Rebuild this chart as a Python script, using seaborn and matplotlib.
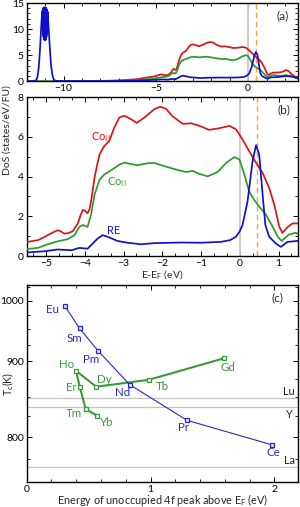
import numpy as np
import pandas as pd
import matplotlib
matplotlib.use('Agg')
import matplotlib.pyplot as plt
import seaborn as sns
from matplotlib.ticker import AutoMinorLocator, FixedLocator, MultipleLocator

# ---- DoS curves (energy in eV, DoS in states/eV/FU) ----
red_e = [-12.0, -8.5, -8.0, -7.5, -7.0, -6.5, -6.0, -5.56, -5.4, -5.21, -5.08, -4.96, -4.83,
         -4.70, -4.62, -4.53, -4.43, -4.31, -4.18, -4.11, -4.05, -3.99, -3.93, -3.88, -3.84,
         -3.75, -3.68, -3.62, -3.50, -3.37, -3.24, -3.11, -2.98, -2.81, -2.66, -2.46, -2.20,
         -2.05, -1.90, -1.73, -1.47, -1.26, -1.04, -0.79, -0.53, -0.27, -0.10, 0.07, 0.24,
         0.42, 0.59, 0.76, 0.89, 1.02, 1.10, 1.23, 1.36, 1.53, 1.75, 1.92, 2.05, 2.20, 2.35,
         2.62, 2.70]
red_dos = [0.0, 0.0, 0.03, 0.08, 0.15, 0.25, 0.38, 0.66, 0.74, 0.80, 0.92, 1.05, 1.18,
           1.30, 1.24, 1.13, 1.15, 1.25, 1.64, 2.05, 2.33, 2.27, 2.15, 2.35, 2.74,
           3.93, 4.60, 5.11, 5.53, 5.79, 6.46, 6.97, 7.06, 6.89, 6.70, 6.97, 7.40,
           7.51, 7.40, 7.02, 6.65, 6.68, 6.55, 6.35, 6.43, 6.55, 6.38, 5.87, 5.28,
           4.69, 4.18, 3.42, 2.58, 1.47, 1.16, 1.45, 1.64, 1.64, 1.70, 1.85, 2.15, 1.90, 1.35,
           0.71, 0.65]

green_e = [-12.0, -8.0, -7.5, -7.0, -6.5, -6.0, -5.56, -5.21, -4.96, -4.70, -4.44, -4.27,
           -4.14, -4.05, -3.93, -3.84, -3.75, -3.62, -3.50, -3.33, -3.11, -2.97, -2.81,
           -2.64, -2.38, -2.20, -2.08, -1.64, -1.39, -1.21, -1.04, -0.83, -0.57, -0.35,
           -0.14, -0.01, 0.12, 0.24, 0.37, 0.50, 0.68, 0.85, 0.98, 1.08, 1.27, 1.44, 1.54,
           1.80, 2.07, 2.35, 2.70]
green_dos = [0.0, 0.0, 0.03, 0.07, 0.12, 0.20, 0.34, 0.41, 0.59, 0.74, 0.85, 1.05,
             1.47, 1.56, 1.47, 2.07, 3.08, 3.84, 4.10, 4.30, 4.60, 4.70, 4.63,
             4.57, 4.67, 4.68, 4.60, 4.35, 4.23, 4.28, 4.13, 4.01, 4.23, 4.69,
             4.98, 4.86, 4.10, 3.25, 2.83, 2.49, 2.07, 1.47, 0.97, 0.76, 1.08, 1.17, 1.08,
             1.02, 1.15, 0.96, 0.45]

# RE 5p-like peak near -11 eV is strongly oscillating (drawn as read, point by point)
blue_e = [-12.0, -11.6, -11.48, -11.42, -11.35, -11.28, -11.22, -11.18,
          -11.16, -11.15, -11.14, -11.13, -11.12, -11.11, -11.10, -11.09, -11.08, -11.07,
          -11.06, -11.05, -11.04, -11.03, -11.02, -11.01, -11.00, -10.99, -10.98, -10.97,
          -10.96, -10.95, -10.94, -10.93, -10.92, -10.91, -10.90, -10.89, -10.88, -10.87,
          -10.86,
          -10.84, -10.80, -10.74, -10.68, -10.60, -10.52, -10.4, -10.2, -9.0, -7.0, -6.0,
          -5.56, -5.04, -4.70, -4.35, -4.14, -3.93, -3.80, -3.67, -3.54, -3.41, -3.16,
          -2.90, -2.55, -2.20, -1.50, -1.00, -0.50, -0.25, -0.10, 0.0, 0.07, 0.20, 0.33,
          0.42, 0.50, 0.59, 0.66, 0.76, 0.93, 1.06, 1.23, 1.54, 2.07, 2.44, 2.70]
blue_dos = [0.0, 0.02, 0.2, 0.8, 2.5, 6.0, 10.0, 12.5,
            13.2, 11.0, 13.6, 10.0, 13.9, 9.0, 14.0, 8.5, 14.1, 8.2,
            14.2, 8.0, 14.1, 7.9, 14.0, 7.8, 14.1, 7.9, 14.0, 8.0,
            14.1, 8.2, 13.9, 8.5, 13.8, 9.0, 13.6, 10.0, 13.4, 11.0,
            13.2,
            12.0, 9.5, 6.0, 3.0, 1.0, 0.2, 0.05, 0.03, 0.01, 0.03, 0.08,
            0.17, 0.24, 0.33, 0.29, 0.41, 0.37, 0.62, 0.88, 1.05, 0.97, 0.76,
            0.67, 0.59, 0.65, 0.68, 0.67, 0.71, 0.80, 0.97, 1.25, 1.56, 2.74, 4.77,
            5.58, 5.11, 3.08, 1.56, 0.97, 0.63, 0.46, 0.71, 0.77, 0.96, 0.83, 0.51]

fermi_e = 0.0
peak_4f_e = 0.44

# ---- Curie temperatures vs 4f peak energy ----
light_re = ['Eu', 'Sm', 'Pm', 'Nd', 'Pr', 'Ce']
light_peak = [0.306, 0.427, 0.578, 0.833, 1.296, 1.98]
light_tc = [990.6, 951.5, 915.3, 866.4, 820.1, 791.1]

heavy_re = ['Gd', 'Tb', 'Dy', 'Ho', 'Er', 'Tm', 'Yb']
heavy_peak = [1.591, 0.986, 0.562, 0.398, 0.430, 0.476, 0.570]
heavy_tc = [904.3, 873.3, 863.7, 886.1, 862.8, 834.2, 825.8]

ref_re = ['Lu', 'Y', 'La']
ref_tc = [848.1, 836.4, 766.0]

RED, GREEN, BLUE = '#dc1414', '#2c9a2c', '#1010c8'
BLUE_C, GREEN_C = '#2828c8', '#3a9a3a'

dos = pd.concat([
    pd.DataFrame({'E': red_e, 'DoS': red_dos, 'site': 'CoII'}),
    pd.DataFrame({'E': green_e, 'DoS': green_dos, 'site': 'CoI'}),
    pd.DataFrame({'E': blue_e, 'DoS': blue_dos, 'site': 'RE'}),
], ignore_index=True)
palette = {'CoII': RED, 'CoI': GREEN, 'RE': BLUE}

sns.set_style('ticks')
plt.rcParams['font.family'] = ['Lato', 'DejaVu Sans']
plt.rcParams['mathtext.default'] = 'regular'
plt.rcParams['font.size'] = 7.5

fig = plt.figure(figsize=(3.0, 5.07), dpi=100)
ax_a = fig.add_axes([0.089, 0.840, 0.904, 0.154])
ax_b = fig.add_axes([0.089, 0.495, 0.904, 0.3136])
ax_c = fig.add_axes([0.089, 0.049, 0.904, 0.3886])


def style_axis(ax):
    for s in ax.spines.values():
        s.set_linewidth(1.0)
        s.set_color('black')
    ax.tick_params(which='both', direction='in', top=True, right=True, labelsize=7.5,
                   pad=2, colors='black')
    ax.tick_params(which='major', length=3.5, width=0.7)
    ax.tick_params(which='minor', length=2, width=0.6)


for ax in (ax_a, ax_b):
    ax.axvline(fermi_e, color='#c8c8c8', lw=1.3, zorder=1)
    ax.axvline(peak_4f_e, color='#f4a63a', lw=1.0, ls=(0, (4, 2.5)), zorder=1)
    sns.lineplot(data=dos, x='E', y='DoS', hue='site', palette=palette, sort=False,
                 estimator=None, lw=1.25, legend=False, ax=ax, zorder=3)
    ax.set_xlabel('')
    ax.set_ylabel('')
    style_axis(ax)

# panel (a)
ax_a.set_xlim(-12, 2.7)
ax_a.set_ylim(0, 15)
ax_a.set_xticks([-10, -5, 0])
ax_a.set_yticks([0, 5, 10, 15])
ax_a.xaxis.set_minor_locator(AutoMinorLocator(5))
ax_a.yaxis.set_minor_locator(AutoMinorLocator(5))
ax_a.text(0.945, 0.84, '(a)', transform=ax_a.transAxes, ha='center', va='center', fontsize=8.5)

# panel (b)
ax_b.set_xlim(-5.5, 1.5)
ax_b.set_ylim(0, 8)
ax_b.set_xticks([-5, -4, -3, -2, -1, 0, 1])
ax_b.set_yticks([0, 2, 4, 6, 8])
ax_b.xaxis.set_minor_locator(AutoMinorLocator(3))
ax_b.yaxis.set_minor_locator(AutoMinorLocator(2))
ax_b.set_xlabel('E-E$_F$ (eV)', fontsize=7.5)
ax_b.xaxis.set_label_coords(0.5, -0.075)
ax_b.text(0.948, 0.918, '(b)', transform=ax_b.transAxes, ha='center', va='center', fontsize=8.5)
ax_b.text(-3.85, 5.96, 'Co$_{II}$', color=RED, fontsize=8, ha='left', va='center')
ax_b.text(-3.44, 3.74, 'Co$_{II}$', color=GREEN, fontsize=8, ha='left', va='center')
ax_b.text(-3.43, 1.30, 'RE', color=BLUE, fontsize=8, ha='left', va='center')

fig.text(0.025, 0.744, 'DoS (states/eV/FU)', rotation=90, ha='center', va='center', fontsize=7.5)


# panel (c): Tc axis linear in 1/Tc
def fwd(t):
    t = np.asarray(t, dtype=float)
    with np.errstate(divide='ignore', invalid='ignore'):
        return -1.0 / t


ax_c.set_xlim(0, 2.19)
ax_c.set_ylim(750.5, 1029)
ax_c.set_yscale('function', functions=(fwd, fwd))
ax_c.set_autoscale_on(False)

light = pd.DataFrame({'peak': light_peak, 'tc': light_tc, 're': light_re})
heavy = pd.DataFrame({'peak': heavy_peak, 'tc': heavy_tc, 're': heavy_re})

for t in ref_tc:
    ax_c.axhline(t, color='#c4c4c4', lw=0.9, zorder=1)

sns.lineplot(data=heavy, x='peak', y='tc', sort=False, estimator=None, color=GREEN_C, lw=1.5,
             marker='s', markersize=3.0, markerfacecolor='#e8f4e8', markeredgecolor=GREEN_C,
             markeredgewidth=0.9, ax=ax_c, zorder=3)
sns.lineplot(data=light, x='peak', y='tc', sort=False, estimator=None, color=BLUE_C, lw=0.8,
             marker='s', markersize=3.0, markerfacecolor='#e6e6fa', markeredgecolor=BLUE_C,
             markeredgewidth=0.9, ax=ax_c, zorder=4)

light_offsets = {'Eu': (-8.5, -2.4), 'Sm': (-3.6, -7.2), 'Pm': (-5, -5.8), 'Nd': (-5, -5.3),
                 'Pr': (-2.9, -5.3), 'Ce': (1.4, -5.5)}
heavy_offsets = {'Ho': (-6.8, 4.3), 'Er': (-6.5, 0), 'Tm': (-8.3, -2.9), 'Yb': (6.3, -4.5),
                 'Dy': (5.8, 5), 'Tb': (10, -4.5), 'Gd': (2.9, -6.7)}
for _, r in light.iterrows():
    ax_c.annotate(r['re'], (r['peak'], r['tc']), xytext=light_offsets[r['re']],
                  textcoords='offset points', ha='center', va='center', color=BLUE_C, fontsize=8.3)
for _, r in heavy.iterrows():
    ax_c.annotate(r['re'], (r['peak'], r['tc']), xytext=heavy_offsets[r['re']],
                  textcoords='offset points', ha='center', va='center', color=GREEN_C, fontsize=8.3)
ref_offsets = {'Lu': 4.7, 'Y': -5.2, 'La': 4.7}
for name, t in zip(ref_re, ref_tc):
    ax_c.annotate(name, (2.12, t), xytext=(0, ref_offsets[name]), textcoords='offset points',
                  ha='center', va='center', color='#222222', fontsize=7.8)

ax_c.set_xlim(0, 2.19)
ax_c.set_ylim(750.5, 1029)
ax_c.set_xticks([0, 1, 2])
ax_c.xaxis.set_minor_locator(AutoMinorLocator(5))
ax_c.yaxis.set_major_locator(FixedLocator([800, 900, 1000]))
ax_c.yaxis.set_minor_locator(MultipleLocator(25))
ax_c.yaxis.set_minor_formatter(plt.NullFormatter())
ax_c.yaxis.set_major_formatter(plt.FuncFormatter(lambda v, p: f'{v:.0f}'))
style_axis(ax_c)
ax_c.set_xlabel('Energy of unoccupied 4f peak above E$_F$ (eV)', fontsize=7.8)
ax_c.xaxis.set_label_coords(0.5, -0.052)
ax_c.set_ylabel('T$_c$(K)', fontsize=7.6)
ax_c.yaxis.set_label_coords(-0.040, 0.5)
ax_c.text(0.925, 0.934, '(c)', transform=ax_c.transAxes, ha='center', va='center', fontsize=8.5)

fig.savefig('out.png', dpi=100)
